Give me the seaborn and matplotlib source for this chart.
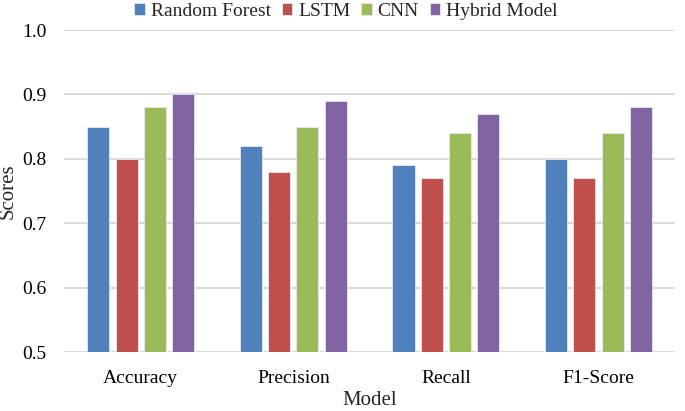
import matplotlib.pyplot as plt
import pandas as pd
import seaborn as sns

# Chart values
metrics = ["Accuracy", "Precision", "Recall", "F1-Score"]
models = ["Random Forest", "LSTM", "CNN", "Hybrid Model"]
rf_scores = [0.85, 0.82, 0.79, 0.80]
lstm_scores = [0.80, 0.78, 0.77, 0.77]
cnn_scores = [0.88, 0.85, 0.84, 0.84]
hybrid_scores = [0.90, 0.89, 0.87, 0.88]
colors = ["#4F81BD", "#C0504D", "#9BBB59", "#8064A2"]

rows = []
for model, scores in zip(models, [rf_scores, lstm_scores, cnn_scores, hybrid_scores]):
    for metric, s in zip(metrics, scores):
        rows.append({"Metric": metric, "Model": model, "Score": s})
df = pd.DataFrame(rows)

sns.set_style("white")
plt.rcParams["font.family"] = ["Liberation Serif", "DejaVu Serif"]

fig, ax = plt.subplots(figsize=(6.85, 4.11), dpi=100)
fig.subplots_adjust(left=0.094, right=0.985, top=0.927, bottom=0.143)

sns.barplot(data=df, x="Metric", y="Score", hue="Model", palette=colors,
            saturation=1, width=0.74, gap=0.22, edgecolor="#E8E8F0",
            linewidth=0.6, ax=ax, legend=True, zorder=3)

ax.set_ylim(0.5, 1.0)
ax.set_yticks([0.5, 0.6, 0.7, 0.8, 0.9, 1.0])
ax.set_yticklabels(["0.5", "0.6", "0.7", "0.8", "0.9", "1.0"])
ax.yaxis.grid(True, color="#D9D9D9", linewidth=1.4, zorder=0)
ax.set_axisbelow(True)
for sp in ax.spines.values():
    sp.set_visible(False)
ax.tick_params(axis="both", length=0, labelsize=14, colors="black")
ax.tick_params(axis="x", pad=13)
ax.tick_params(axis="y", pad=13)
ax.set_xlabel("Model", fontsize=15, labelpad=3)
ax.set_ylabel("Scores", fontsize=15, labelpad=3)

handles, labels = ax.get_legend_handles_labels()
ax.get_legend().remove()
fig.legend(handles, labels, loc="upper center", bbox_to_anchor=(0.505, 1.035),
           ncol=4, frameon=False, fontsize=14, handlelength=0.55,
           handleheight=0.55, handletextpad=0.3, columnspacing=0.55)

plt.savefig("out.png", dpi=100)
